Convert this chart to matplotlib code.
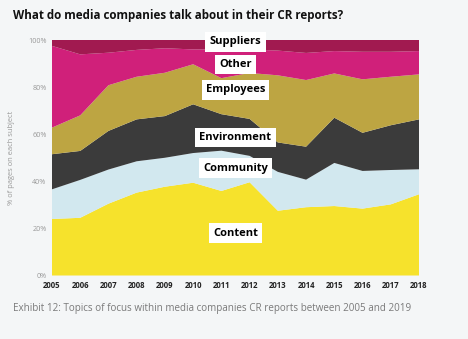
import matplotlib
matplotlib.use("Agg")
import matplotlib.pyplot as plt

# data: share of pages per subject (%)
years = list(range(2005, 2019))
content     = [24.0, 24.5, 30.5, 35.2, 37.7, 39.4, 35.9, 39.6, 27.5, 29.0, 29.5, 28.4, 30.2, 34.5]
community   = [12.6, 16.1, 14.5, 13.3, 12.3, 12.6, 17.1, 11.2, 16.5, 11.7, 18.3, 16.0, 14.6, 10.6]
environment = [14.9, 12.3, 16.4, 17.8, 17.7, 20.7, 15.5, 15.7, 12.5, 14.0, 19.2, 16.2, 19.0, 21.2]
employees   = [11.3, 15.1, 19.4, 18.1, 18.4, 17.0, 15.3, 19.5, 28.5, 28.3, 18.8, 22.7, 20.6, 19.1]
other       = [34.7, 25.9, 13.8, 11.4, 10.4, 6.3, 12.2, 10.0, 10.5, 11.5, 9.5, 11.7, 10.6, 9.9]
suppliers   = [2.5, 6.1, 5.4, 4.2, 3.5, 4.0, 4.0, 4.0, 4.5, 5.5, 4.7, 5.0, 5.0, 4.7]

series_names = ["Content", "Community", "Environment", "Employees", "Other", "Suppliers"]
label_y = [18, 45.6, 58.6, 78.8, 89.6, 99.2]
y_ticks = [0, 20, 40, 60, 80, 100]

colors = ["#f6e22c", "#d2e8ef", "#3b3b3b", "#bda542", "#d0207a", "#a11a50"]
bg = "#f4f6f7"

fig = plt.figure(figsize=(4.68, 3.39), dpi=100, facecolor=bg)
ax = fig.add_axes([0.1111, 0.1873, 0.7842, 0.6947])
ax.set_facecolor(bg)

ax.stackplot(years, content, community, environment, employees, other, suppliers,
             colors=colors, linewidth=0)

# white label boxes in the middle of the chart
for name, yv in zip(series_names, label_y):
    ax.text(2011.5, yv, name, ha="center", va="center", fontsize=8,
            fontweight="bold", family="Open Sans", color="black",
            bbox=dict(boxstyle="square,pad=0.38", fc="white", ec="none"))

ax.set_xlim(2005, 2018)
ax.set_ylim(0, 100)
ax.set_xticks(years)
ax.set_xticklabels([str(y) for y in years], fontsize=5.6, fontweight="bold",
                   family="Open Sans", color="#222222")
ax.set_yticks(y_ticks)
ax.set_yticklabels([f"{t}%" for t in y_ticks], fontsize=5.2, color="#999999",
                   family="Open Sans")
ax.tick_params(length=0, pad=4)
for s in ax.spines.values():
    s.set_visible(False)
ax.set_ylabel("% of pages on each subject", fontsize=5.4, color="#999999",
              family="Open Sans", labelpad=9)

fig.text(13 / 468, 1 - 16 / 339, "What do media companies talk about in their CR reports?",
         fontsize=8.4, fontweight="bold", family="Open Sans", color="#111111",
         ha="left", va="center")
fig.text(13 / 468, 1 - 309 / 339,
         "Exhibit 12: Topics of focus within media companies CR reports between 2005 and 2019",
         fontsize=7.1, family="Open Sans", color="#7a7a7a", ha="left", va="center")

fig.savefig("out.png", dpi=100, facecolor=bg)
